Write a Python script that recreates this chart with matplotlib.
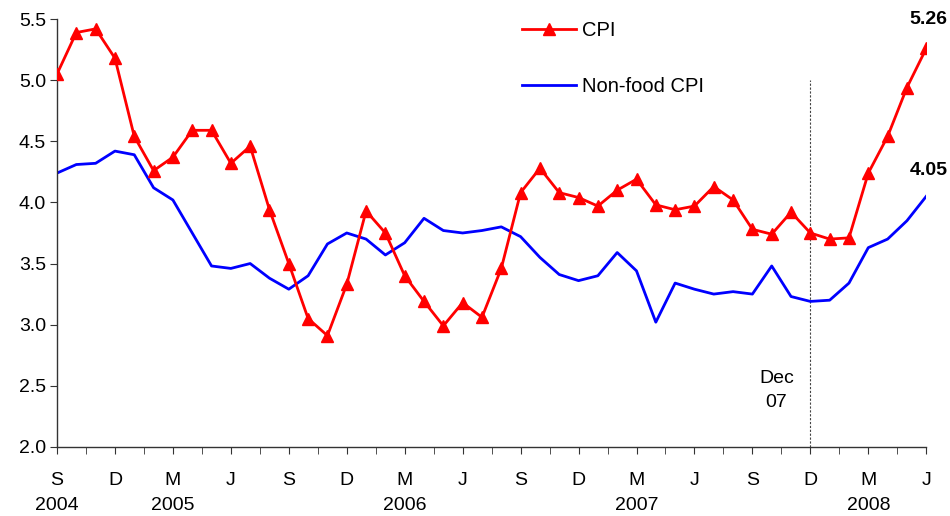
import numpy as np
import matplotlib
matplotlib.use('Agg')
import matplotlib.pyplot as plt
from matplotlib.ticker import FixedLocator, MultipleLocator

plt.rcParams['font.family'] = ['Liberation Sans', 'DejaVu Sans']

# monthly series, Sep 2004 .. Jun 2008
cpi = [5.05, 5.39, 5.42, 5.18, 4.54, 4.26, 4.37, 4.59, 4.59, 4.32,
       4.46, 3.94, 3.50, 3.05, 2.91, 3.33, 3.93, 3.75, 3.40, 3.19,
       2.99, 3.18, 3.06, 3.46, 4.08, 4.28, 4.08, 4.04, 3.97, 4.10,
       4.19, 3.98, 3.94, 3.97, 4.13, 4.02, 3.78, 3.74, 3.92, 3.75,
       3.70, 3.71, 4.24, 4.54, 4.94, 5.26]
nonfood = [4.24, 4.31, 4.32, 4.42, 4.39, 4.12, 4.02, 3.75, 3.48, 3.46,
           3.50, 3.38, 3.29, 3.40, 3.66, 3.75, 3.70, 3.57, 3.67, 3.87,
           3.77, 3.75, 3.77, 3.80, 3.72, 3.55, 3.41, 3.36, 3.40, 3.59,
           3.44, 3.02, 3.34, 3.29, 3.25, 3.27, 3.25, 3.48, 3.23, 3.19,
           3.20, 3.34, 3.63, 3.70, 3.85, 4.05]
month_labels = ['S\n2004', 'D', 'M\n2005', 'J', 'S', 'D', 'M\n2006', 'J',
                'S', 'D', 'M\n2007', 'J', 'S', 'D', 'M\n2008', 'J']
marker_month = 39  # Dec 07

x = np.arange(len(cpi))

fig = plt.figure(figsize=(9.5, 5.16), dpi=100)
ax = fig.add_axes([0.06, 0.134, 0.915, 0.829])

ax.plot(x, cpi, color='#FF0000', lw=2, marker='^', markersize=9,
        markeredgecolor='#FF0000', label='CPI', zorder=3)
ax.plot(x, nonfood, color='#0000FF', lw=2, label='Non-food CPI', zorder=2)

ax.plot([marker_month, marker_month], [2.0, 5.0], color='#444444',
        lw=0.8, ls=(0, (2, 1.5)), zorder=1)
ax.text(marker_month - 1.75, 2.46, 'Dec\n07', ha='center', va='center',
        fontsize=14, linespacing=1.5)

ax.text(x[-1] + 1.1, cpi[-1] + 0.24, f'{cpi[-1]:.2f}', ha='right',
        va='center', fontsize=14, fontweight='bold')
ax.text(x[-1] + 1.1, nonfood[-1] + 0.21, f'{nonfood[-1]:.2f}', ha='right',
        va='center', fontsize=14, fontweight='bold')

ax.set_xlim(0, 45)
ax.set_ylim(2.0, 5.5)
ax.yaxis.set_major_locator(MultipleLocator(0.5))
ax.yaxis.set_major_formatter(plt.FormatStrFormatter('%.1f'))
ax.xaxis.set_major_locator(FixedLocator(np.arange(0, 46, 3)))
ax.xaxis.set_minor_locator(FixedLocator(np.arange(0, 45.1, 1.5)))
ax.set_xticklabels(month_labels, linespacing=1.6, va='top')

for s in ['top', 'right']:
    ax.spines[s].set_visible(False)
for s in ['left', 'bottom']:
    ax.spines[s].set_color('#333333')
    ax.spines[s].set_linewidth(1.0)
ax.tick_params(axis='y', length=5, labelsize=14, pad=3, color='#333333')
ax.tick_params(axis='x', which='major', length=5, labelsize=14, pad=13,
               color='#333333')
ax.tick_params(axis='x', which='minor', length=5, color='#333333')

ax.legend(loc='upper left', bbox_to_anchor=(0.535, 0.995), frameon=False,
          fontsize=14.5, handlelength=2.7, handletextpad=0.3,
          labelspacing=1.85, borderaxespad=0, borderpad=0)

fig.savefig('out.png', dpi=100)
